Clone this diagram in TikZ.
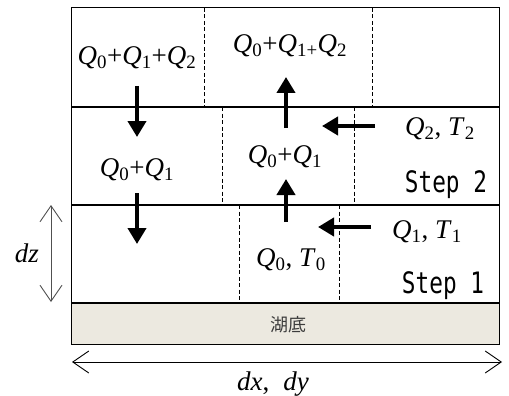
\documentclass[tikz,border=0pt]{standalone}
\usepackage{fontspec}
\setmainfont{Liberation Serif}
\newfontfamily\stepfont[FakeStretch=0.77]{DejaVu Sans Mono}
\newfontfamily\cjkfont{Noto Sans CJK JP}
\usetikzlibrary{arrows.meta}
\newcommand\Qs[1]{\textit{Q}\textsubscript{#1}}
\newcommand\Ts[1]{\textit{T}\textsubscript{#1}}
\begin{document}
\begin{tikzpicture}[x=1pt,y=-1pt,
  lbl/.style={font=\fontsize{27}{29}\selectfont, inner sep=0pt},
  steplbl/.style={font=\fontsize{29.5}{31}\selectfont\stepfont, inner sep=0pt},
  layer/.style={line width=1.5pt},
  divider/.style={line width=0.8pt, dash pattern=on 4pt off 2.5pt},
  flow/.style={line width=4.5pt, -{Triangle[length=16pt,width=18pt]}},
  dim/.style={line width=0.9pt, {Straight Barb[length=16pt,width=22pt]}-{Straight Barb[length=16pt,width=22pt]}}
]
\useasboundingbox (0,0) rectangle (509,396);
% lake bed
\draw[line width=1pt, fill={rgb,255:red,236;green,233;blue,224}] (71,303) rectangle (499,344);
\node[font=\fontsize{18}{19}\selectfont\cjkfont, text={rgb,255:red,60;green,60;blue,60}] (bed) at (288,325) {湖底};
% outer box and layers
\draw[line width=1pt] (71,8) rectangle (499,303);
\draw[layer] (71,107) -- (499,107);
\draw[layer] (71,205) -- (499,205);
\draw[layer] (71,303) -- (499,303);
% dashed dividers
\draw[divider] (204,8) -- (204,107);
\draw[divider] (372,8) -- (372,107);
\draw[divider] (222,107) -- (222,205);
\draw[divider] (354,107) -- (354,205);
\draw[divider] (239,205) -- (239,303);
\draw[divider] (339,205) -- (339,303);
% labels
\node[lbl] (t1) at (137,58) {\Qs{0}+\Qs{1}+\Qs{2}};
\node[lbl] (t2) at (290,46) {\Qs{0}+\textit{Q}\textsubscript{1+}\Qs{2}};
\node[lbl] (m1) at (137,170) {\Qs{0}+\Qs{1}};
\node[lbl] (m2) at (285,157) {\Qs{0}+\Qs{1}};
\node[lbl] (m3) at (440,129) {\Qs{2}, \Ts{2}};
\node[steplbl] (s2) at (446,185) {Step 2};
\node[lbl] (b1) at (427,232) {\Qs{1}, \Ts{1}};
\node[lbl] (b2) at (291,260) {\Qs{0}, \Ts{0}};
\node[steplbl] (s1) at (443,286) {Step 1};
\node[lbl] (dz) at (27,253) {\textit{dz}};
\node[lbl] (dxy) at (273,384) {\textit{dx},\hspace{14pt}\textit{dy}};
% flow arrows
\coordinate (a1s) at (137,86);  \coordinate (a1e) at (137,137);
\coordinate (a2s) at (137,193); \coordinate (a2e) at (137,244);
\coordinate (u1s) at (286,128); \coordinate (u1e) at (286,77);
\coordinate (u2s) at (286,222); \coordinate (u2e) at (286,179);
\coordinate (l1s) at (375,126); \coordinate (l1e) at (322,126);
\coordinate (l2s) at (371,227); \coordinate (l2e) at (318,227);
\draw[flow] (a1s) -- (a1e);
\draw[flow] (a2s) -- (a2e);
\draw[flow] (u1s) -- (u1e);
\draw[flow] (u2s) -- (u2e);
\draw[flow] (l1s) -- (l1e);
\draw[flow] (l2s) -- (l2e);
% dimension arrows
\coordinate (dzt) at (51,205); \coordinate (dzb) at (51,302);
\coordinate (dxl) at (72,362); \coordinate (dxr) at (502,362);
\draw[dim, draw={rgb,255:red,80;green,80;blue,80}] (dzt) -- (dzb);
\draw[dim] (dxl) -- (dxr);
\end{tikzpicture}
\end{document}
